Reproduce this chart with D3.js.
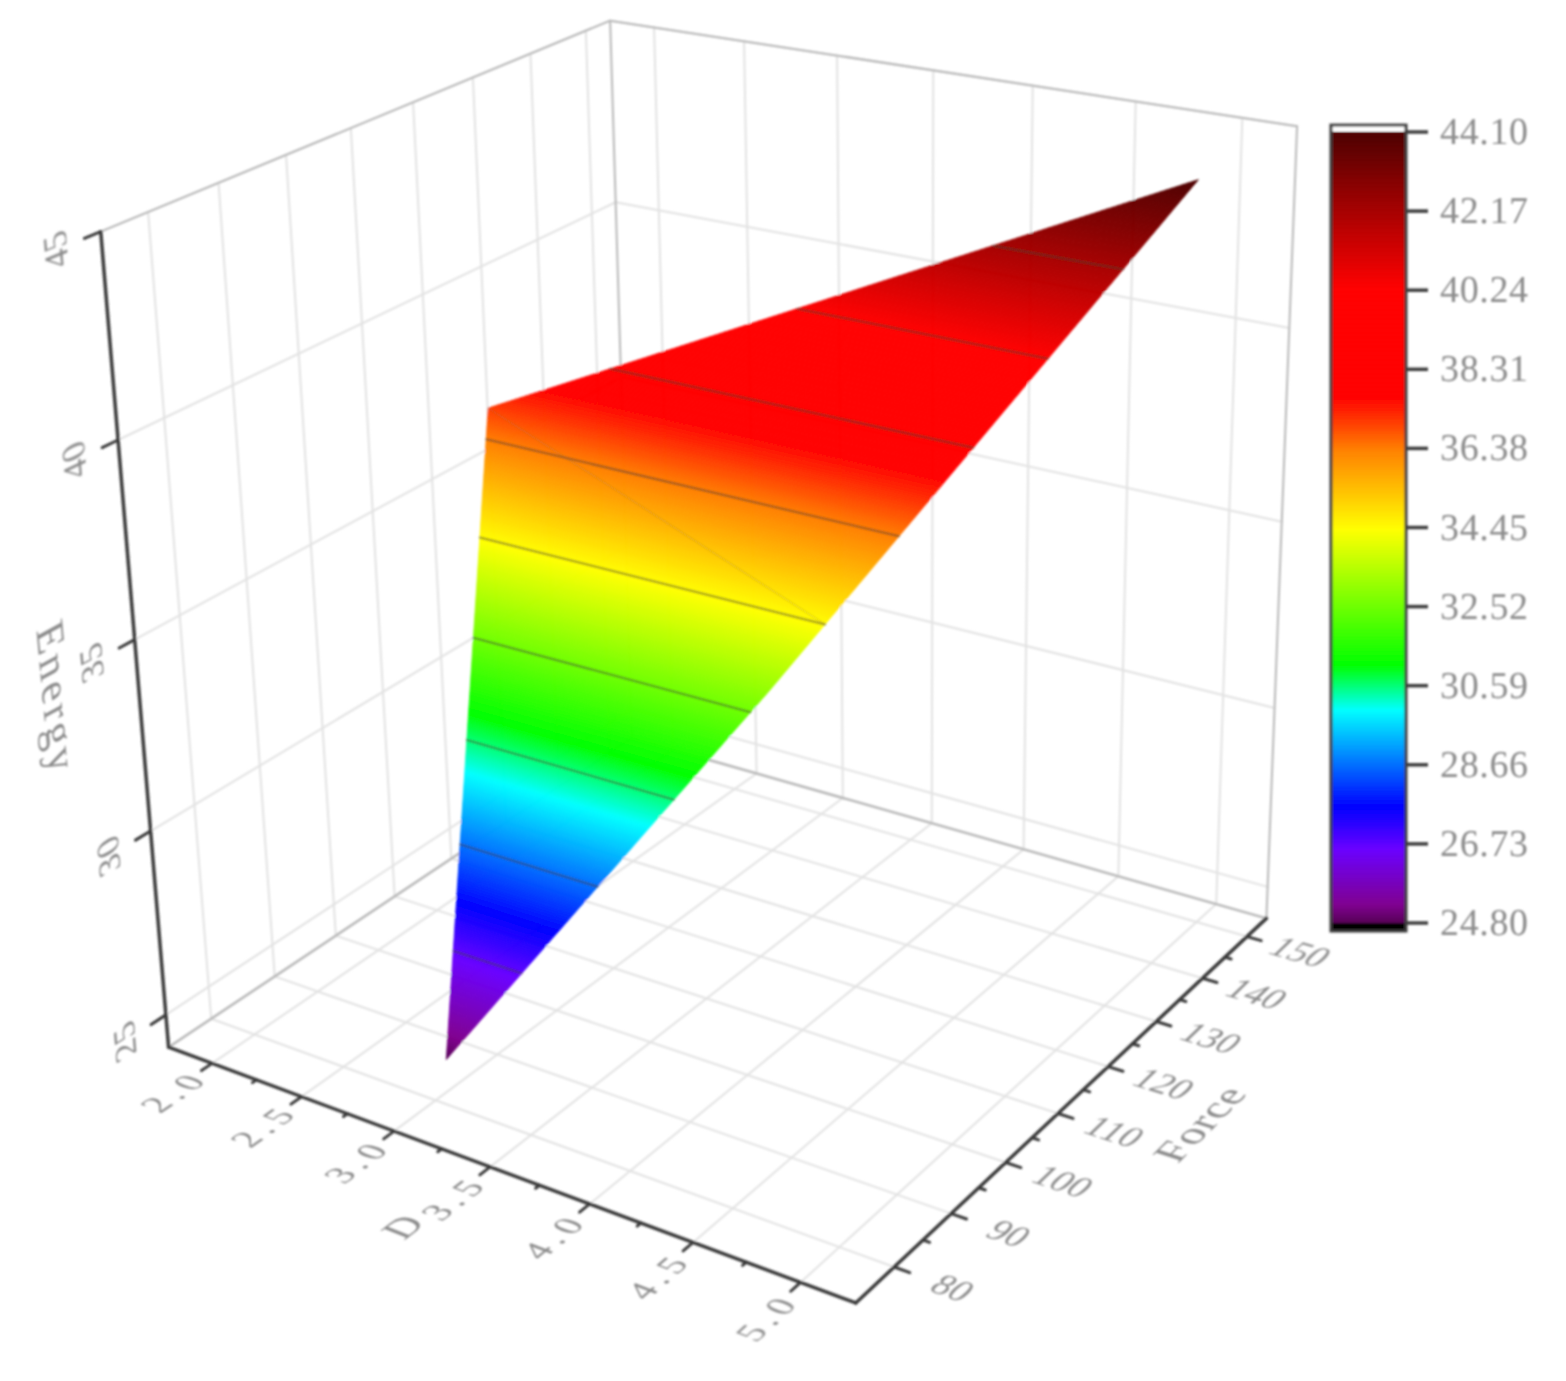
<!DOCTYPE html>
<html lang='en'>
<head>
	<meta charset='UTF-8'>
	<title>Energy surface</title>
	<style>
		body { margin: 0; background: #fff; }
		svg { display: block; }
		text { font-family: 'Liberation Serif', serif; fill: #8c8c8c; text-rendering: geometricPrecision; }
	</style>
</head>
<body>

<svg></svg>

<script src='https://d3js.org/d3.v7.min.js'></script>
<script>
const width = 1566
const height = 1381

// axis ranges and ticks
const dRange = [1.75, 5.25]
const fRange = [73.5, 154.5]
const eRange = [24.1, 45]
const dTicks = [2, 2.5, 3, 3.5, 4, 4.5, 5]
const dMinor = [2.25, 2.75, 3.25, 3.75, 4.25, 4.75]
const fTicks = [80, 90, 100, 110, 120, 130, 140, 150]
const fMinor = [85, 95, 105, 115, 125, 135, 145]
const eTicks = [25, 30, 35, 40, 45]

// surface: long edge from lowest to highest point, plus the corner on the D = 2 side
const edgeD = [2.97, 3.86, 5.0]
const edgeF = [82.8, 109.9, 145.5]
const edgeE = [24.8, 33, 44.1]
const cornerD = 2.0
const cornerF = 122.7
const cornerE = 37
const meshEdgeE = 34.45

// colour bar
const levels = [24.8, 26.73, 28.66, 30.59, 32.52, 34.45, 36.38, 38.31, 40.24, 42.17, 44.1]
const colorValues = [24.8, 25.24, 26.6, 27.63, 30.0, 31.1, 34.4, 36.35, 36.97, 37.65, 40.26, 44.1]
const colorStops = ['#550055', '#800090', '#6a00ff', '#0000ff', '#00ffff', '#00ff00', '#ffff00', '#ff8000', '#ff4000', '#ff0000', '#ff0000', '#4d0000']

// where the axes sit in the picture, used to fit the camera
const calib = [
	[1.75, 73.5, 24.1, 170, 1048], [5.25, 73.5, 24.1, 857, 1300], [5.25, 154.5, 24.1, 1270, 915],
	[1.75, 154.5, 24.1, 628, 738], [1.75, 73.5, 45, 98, 230], [5.25, 154.5, 45, 1297, 128], [1.75, 154.5, 45, 612, 22],
	[2, 73.5, 24.1, 212, 1065], [2.5, 73.5, 24.1, 300, 1097], [3, 73.5, 24.1, 395, 1132], [3.5, 73.5, 24.1, 491, 1168],
	[4, 73.5, 24.1, 590, 1203], [4.5, 73.5, 24.1, 693, 1240], [5, 73.5, 24.1, 803, 1279],
	[5.25, 80, 24.1, 892, 1273], [5.25, 90, 24.1, 948, 1217], [5.25, 100, 24.1, 1003, 1164], [5.25, 110, 24.1, 1057, 1113],
	[5.25, 120, 24.1, 1108, 1067], [5.25, 130, 24.1, 1157, 1021], [5.25, 140, 24.1, 1202, 978], [5.25, 150, 24.1, 1248, 936],
	[1.75, 73.5, 25, 168, 1015], [1.75, 73.5, 30, 152, 831], [1.75, 73.5, 35, 135, 638], [1.75, 73.5, 40, 118, 439]
]

const dScale = d3.scaleLinear().domain(dRange).range([0, 1])
const fScale = d3.scaleLinear().domain(fRange).range([0, 1])
const eScale = d3.scaleLinear().domain(eRange).range([0, 1])
const color = d3.scaleLinear().domain(colorValues).range(colorStops).clamp(true)
const legendY = d3.scaleLinear().domain([24.8, 44.1]).range([923, 132])

function solve(A, b) {
	const n = b.length
	const M = A.map((r, i) => [...r, b[i]])
	for (let i = 0; i < n; i++) {
		let p = i
		for (let k = i + 1; k < n; k++) if (Math.abs(M[k][i]) > Math.abs(M[p][i])) p = k
		;[M[i], M[p]] = [M[p], M[i]]
		for (let k = i + 1; k < n; k++) {
			const m = M[k][i] / M[i][i]
			for (let j = i; j <= n; j++) M[k][j] -= m * M[i][j]
		}
	}
	const x = new Array(n).fill(0)
	for (let i = n - 1; i >= 0; i--) {
		let s = M[i][n]
		for (let j = i + 1; j < n; j++) s -= M[i][j] * x[j]
		x[i] = s / M[i][i]
	}
	return x
}

// least squares fit of a perspective camera
function fitCamera() {
	const rows = [], rhs = []
	calib.forEach(([d, f, e, X, Y]) => {
		const u = dScale(d), v = fScale(f), w = eScale(e), x = X / 1000, y = Y / 1000
		rows.push([u, v, w, 1, 0, 0, 0, 0, -u * x, -v * x, -w * x]); rhs.push(x)
		rows.push([0, 0, 0, 0, u, v, w, 1, -u * y, -v * y, -w * y]); rhs.push(y)
	})
	const A = d3.range(11).map(i => d3.range(11).map(j => d3.sum(rows, r => r[i] * r[j])))
	const b = d3.range(11).map(i => d3.sum(rows, (r, k) => r[i] * rhs[k]))
	return solve(A, b)
}
const cam = fitCamera()

function project(d, f, e) {
	const u = dScale(d), v = fScale(f), w = eScale(e)
	const h = cam[8] * u + cam[9] * v + cam[10] * w + 1
	return [
		1000 * (cam[0] * u + cam[1] * v + cam[2] * w + cam[3]) / h,
		1000 * (cam[4] * u + cam[5] * v + cam[6] * w + cam[7]) / h
	]
}

const svg = d3.select('svg').attr('width', width).attr('height', height)
svg.append('defs').append('filter').attr('id', 'soft')
	.attr('filterUnits', 'userSpaceOnUse')
	.attr('x', 0).attr('y', 0).attr('width', width).attr('height', height)
	.append('feGaussianBlur').attr('stdDeviation', 1)
// plain sheet outside the blur, keeps the whole page painted
svg.append('rect').attr('width', width).attr('height', height).attr('fill', '#fff')
const root = svg.append('g').attr('filter', 'url(#soft)')

const line3d = (a, b, stroke, w) => {
	const p = project(...a), q = project(...b)
	root.append('line')
		.attr('x1', p[0]).attr('y1', p[1]).attr('x2', q[0]).attr('y2', q[1])
		.attr('stroke', stroke).attr('stroke-width', w).attr('stroke-linecap', 'round')
}

const [d0, d1] = dRange, [f0, f1] = fRange, [e0, e1] = eRange
const gridColor = '#e2e2e2', frameColor = '#b8b8b8', axisColor = '#3a3a3a'

// walls and floor
fTicks.forEach(f => {
	line3d([d0, f, e0], [d0, f, e1], gridColor, 2)
	line3d([d0, f, e0], [d1, f, e0], gridColor, 2)
})
dTicks.forEach(d => {
	line3d([d, f1, e0], [d, f1, e1], gridColor, 2)
	line3d([d, f0, e0], [d, f1, e0], gridColor, 2)
})
eTicks.forEach(e => {
	line3d([d0, f0, e], [d0, f1, e], gridColor, 2)
	line3d([d0, f1, e], [d1, f1, e], gridColor, 2)
})
line3d([d0, f0, e1], [d0, f1, e1], frameColor, 2)
line3d([d0, f1, e1], [d1, f1, e1], frameColor, 2)
line3d([d0, f1, e0], [d0, f1, e1], frameColor, 2)
line3d([d1, f1, e0], [d1, f1, e1], frameColor, 2)
line3d([d0, f0, e0], [d0, f1, e0], frameColor, 2.5)
line3d([d0, f1, e0], [d1, f1, e0], frameColor, 2.5)

// surface cut in thin bands of equal Energy
const eMin = edgeE[0], eMax = edgeE[edgeE.length - 1]
const edgeAtD = d3.scaleLinear().domain(edgeE).range(edgeD)
const edgeAtF = d3.scaleLinear().domain(edgeE).range(edgeF)
const sideAtD = d3.scaleLinear().domain([eMin, cornerE, eMax]).range([edgeD[0], cornerD, edgeD[2]])
const sideAtF = d3.scaleLinear().domain([eMin, cornerE, eMax]).range([edgeF[0], cornerF, edgeF[2]])
const slice = e => [[sideAtD(e), sideAtF(e), e], [edgeAtD(e), edgeAtF(e), e]]
const corner = [cornerD, cornerF, cornerE]

const bandEdges = d3.range(eMin, eMax, 0.05).concat([eMax])
const bands = bandEdges.slice(1).map((e, i) => {
	const lo = bandEdges[i]
	const [a, b] = slice(lo), [c, d] = slice(e)
	const pts = [a, b, d, c]
	if (lo < cornerE && e > cornerE) pts.splice(0, 0, corner)
	return { e: (lo + e) / 2, pts: pts.map(p => project(...p)) }
})
root.append('g').selectAll('path').data(bands).join('path')
	.attr('d', d => 'M' + d.pts.join('L') + 'Z')
	.attr('fill', d => color(d.e))
	.attr('stroke', d => color(d.e))
	.attr('stroke-width', 0.7)

// faint mesh edge and the contour lines at the colour levels
line3d(corner, slice(meshEdgeE)[1], 'rgba(150,120,60,0.25)', 1.5)
levels.slice(1, -1).forEach(e => {
	const [a, b] = slice(e)
	line3d(a, b, 'rgba(70,60,50,0.55)', 2)
})

// axes
line3d([d0, f0, e0], [d1, f0, e0], axisColor, 3.5)
line3d([d1, f0, e0], [d1, f1, e0], axisColor, 3.5)
line3d([d0, f0, e0], [d0, f0, e1], axisColor, 3.5)
dTicks.forEach(d => line3d([d, f0, e0], [d, f0 - 1.6, e0], axisColor, 3))
dMinor.forEach(d => line3d([d, f0, e0], [d, f0 - 0.6, e0], axisColor, 3))
fTicks.forEach(f => line3d([d1, f, e0], [d1 + 0.07, f, e0], axisColor, 3))
fMinor.forEach(f => line3d([d1, f, e0], [d1 + 0.03, f, e0], axisColor, 3))
eTicks.forEach(e => line3d([d0, f0, e], [d0, f0 - 2.2, e], axisColor, 3))

// text lying in the plane of an axis: local directions come from the camera
function unit(p, q) {
	const a = project(...p), b = project(...q)
	const l = Math.hypot(b[0] - a[0], b[1] - a[1])
	return [(b[0] - a[0]) / l, (b[1] - a[1]) / l]
}
function planeText(str, at, xv, yv, size, spacing) {
	const c = project(...at)
	root.append('text')
		.attr('transform', `matrix(${xv[0]},${xv[1]},${yv[0]},${yv[1]},${c[0]},${c[1]})`)
		.attr('text-anchor', 'middle')
		.attr('dy', '0.32em')
		.attr('font-size', size)
		.attr('letter-spacing', spacing)
		.text(str)
}
dTicks.forEach(d => {
	const at = [d + 0.02, f0 - 6, e0]
	planeText(d3.format('.1f')(d), at, unit(at, [d + 0.02, f0, e0]), unit(at, [d + 0.12, f0 - 6, e0]), 36, 6)
})
fTicks.forEach(f => {
	const at = [d1 + 0.26, f, e0]
	planeText(f, at, unit(at, [d1 + 0.36, f, e0]), unit(at, [d1 + 0.26, f - 1, e0]), 36, 0)
})
eTicks.forEach(e => {
	const at = [d0, f0 - 6, e]
	planeText(e, at, unit(at, [d0, f0 - 6, e + 1]), unit(at, [d0, f0 - 5, e]), 36, 0)
})
{
	const at = [d0, f0 - 11.2, 34.6]
	planeText('Energy', at, unit(at, [d0, f0 - 11.2, 33.6]), unit(at, [d0, f0 - 12.2, 34.6]), 44, 4)
	const af = [d1 + 0.53, 115.5, e0]
	planeText('Force', af, unit(af, [d1 + 0.53, 116.5, e0]), unit(af, [d1 + 0.63, 115.5, e0]), 42, 1)
	const ad = [3.47, f0 - 12.3, e0]
	planeText('D', ad, unit(ad, [3.47, f0 - 11.3, e0]), unit(ad, [3.57, f0 - 12.3, e0]), 40, 0)
}

// colour bar
const legend = root.append('g')
const barX = 1331, barW = 75
legend.selectAll('rect.c').data(d3.range(24.8, 44.1, 0.02)).join('rect')
	.attr('class', 'c')
	.attr('x', barX).attr('width', barW)
	.attr('y', d => legendY(d) - 1).attr('height', 1.5)
	.attr('fill', d => color(d))
legend.append('rect').attr('x', barX).attr('y', 123).attr('width', barW).attr('height', 8).attr('fill', '#fff')
legend.append('rect').attr('x', barX).attr('y', 923).attr('width', barW).attr('height', 9).attr('fill', '#000')
legend.append('rect').attr('x', barX).attr('y', 125).attr('width', barW).attr('height', 806)
	.attr('fill', 'none').attr('stroke', '#3c3c3c').attr('stroke-width', 3)
legend.selectAll('line').data(levels).join('line')
	.attr('x1', barX + barW).attr('x2', barX + barW + 22)
	.attr('y1', d => legendY(d)).attr('y2', d => legendY(d))
	.attr('stroke', '#3c3c3c').attr('stroke-width', 3.5)
legend.selectAll('text').data(levels).join('text')
	.attr('x', 1440)
	.attr('y', d => legendY(d) + 12)
	.attr('font-size', 38)
	.attr('textLength', 88)
	.text(d => d.toFixed(2))
</script>
</body>
</html>
